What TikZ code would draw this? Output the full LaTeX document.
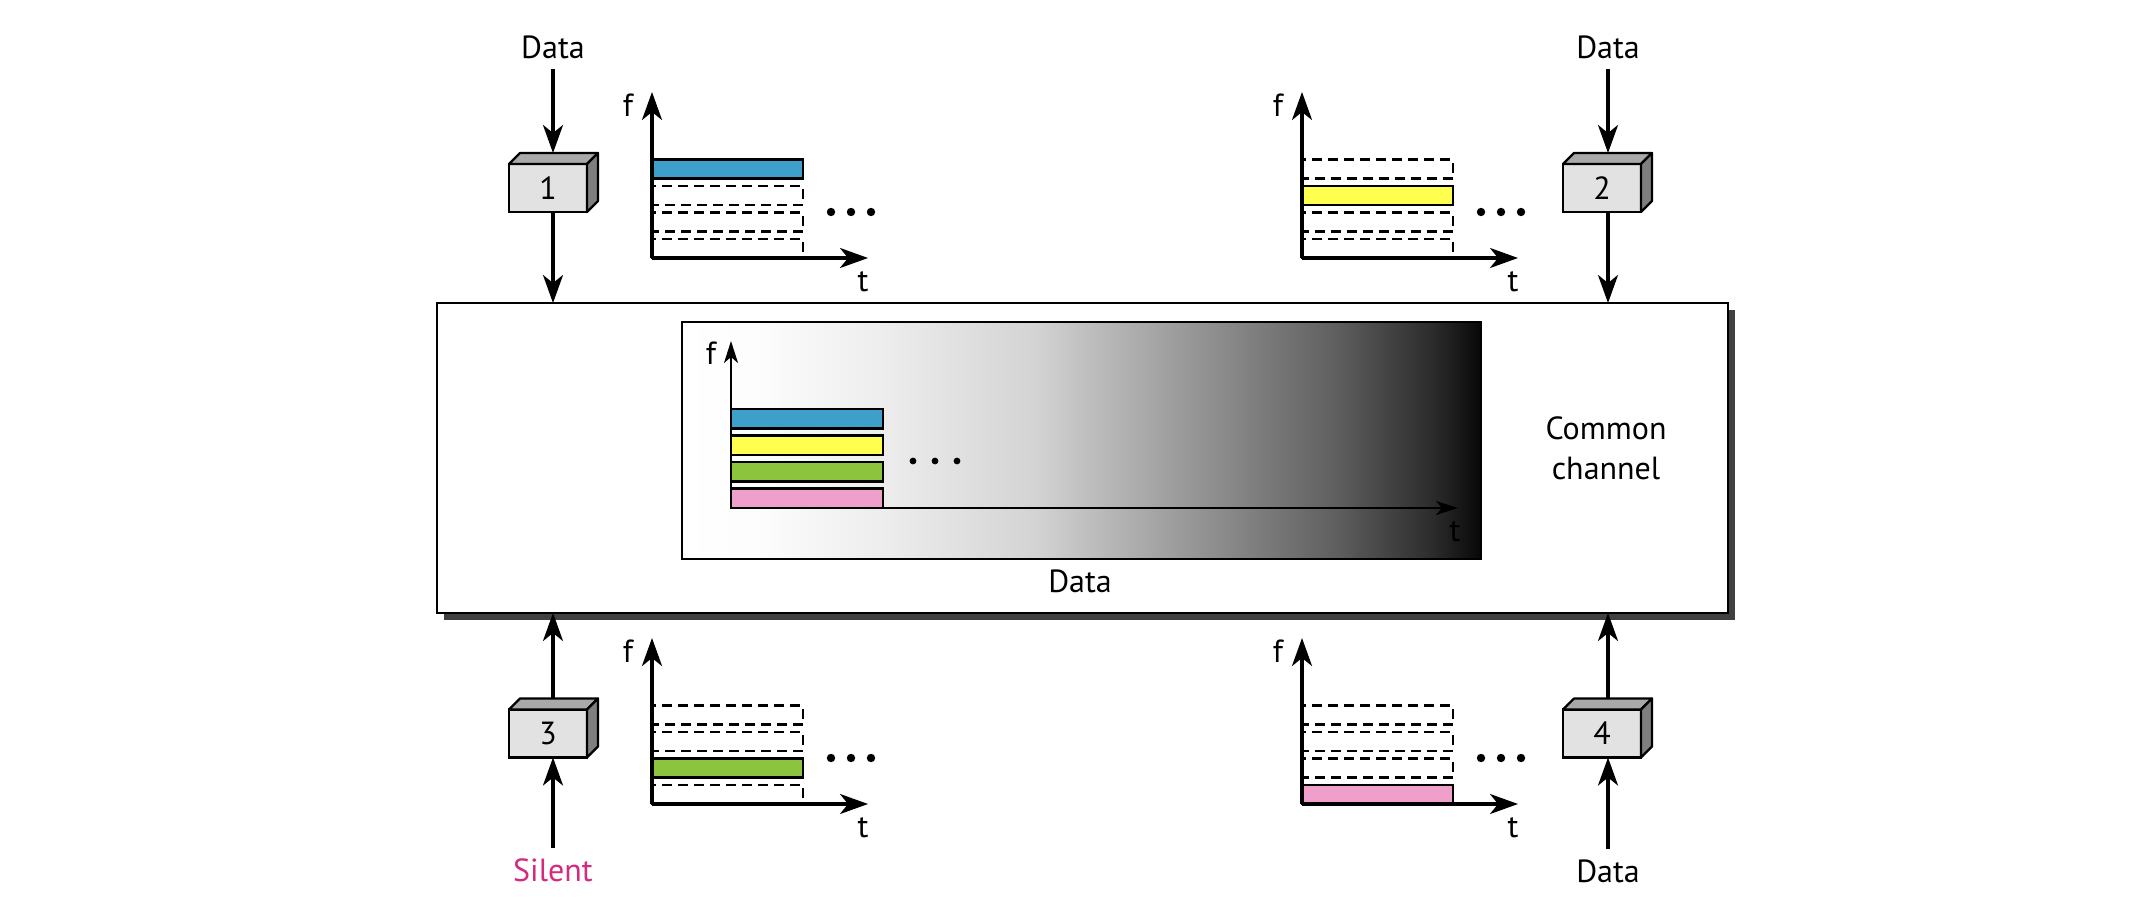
\documentclass[tikz,border=0pt]{standalone}
\usepackage{fontspec}
\setmainfont{PT Sans}
\usetikzlibrary{arrows.meta,shadows}
\definecolor{cblue}{HTML}{3F9FCB}
\definecolor{cyellow}{HTML}{FFFF50}
\definecolor{cgreen}{HTML}{8CC43E}
\definecolor{cpink}{HTML}{EEA0CB}
\definecolor{silentc}{HTML}{D42A80}
\definecolor{boxfront}{HTML}{E2E2E2}
\definecolor{boxtop}{HTML}{A9A9A9}
\definecolor{boxside}{HTML}{7F7F7F}
\pgfdeclarehorizontalshading{chan}{100bp}{color(0bp)=(white); color(25bp)=(white); color(30bp)=(black!1); color(37.5bp)=(black!7); color(47bp)=(black!17); color(56.5bp)=(black!40); color(66bp)=(black!63); color(72bp)=(black!83); color(75bp)=(black!97); color(100bp)=(black!97)}
\newcommand\fdmchart[5]{%
 \foreach \k in {0,...,3}{\draw[slot] (#1,{#2-19-(3-\k)*26.5}) rectangle (#1+151,{#2-(3-\k)*26.5});}
 \draw[bar,fill=#4] (#1,{#2-19-(3-#3)*26.5}) rectangle (#1+151,{#2-(3-#3)*26.5});
 \draw[arr] (#1,#2) -- (#1,#2-166);
 \draw[arr] (#1,#2) -- (#1+216,#2);
 \node (f#5) at (#1-24,#2-153) {f};
 \node (t#5) at (#1+211,#2+24) {t};
 \foreach \dx in {179,199,219} \fill (#1+\dx,#2-46) circle (2.1pt);
}
\newcommand\cube[1]{%
 \draw[line width=1.1pt, fill=boxtop, line join=round] (#1.north west) -- ++(11,-11) -- ++(78,0) -- (#1.north east) -- cycle;
 \draw[line width=1.1pt, fill=boxside, line join=round] (#1.north east) -- ++(11,-11) -- ++(0,48) -- (#1.south east) -- cycle;
}
\begin{document}
\begin{tikzpicture}[x=0.5pt,y=-0.5pt,
  font=\fontsize{16}{19}\selectfont,
  arr/.style={line width=1.6pt,-{Stealth[length=14pt,width=10pt,inset=4pt]}},
  iarr/.style={line width=1.1pt,-{Stealth[length=11pt,width=7pt,inset=3pt]}},
  slot/.style={dash pattern=on 5pt off 3pt, line width=1.4pt},
  bar/.style={draw, line width=1.3pt},
  ibar/.style={draw, line width=1.1pt},
  procbox/.style={draw, line width=1.1pt, fill=boxfront, minimum width=39pt, minimum height=24pt, outer sep=0pt, inner sep=0pt},
  lbl/.style={inner sep=5pt}]
\useasboundingbox (0,0) rectangle (2140,920);

% common channel
\node[draw, line width=1.1pt, fill=white, minimum width=645.5pt, minimum height=155pt, outer sep=0pt,
  drop shadow={shadow xshift=3.5pt, shadow yshift=-3.5pt, fill=black!75, opacity=1}] (main) at (1082.5,458) {};
\node[draw, line width=1.1pt, shading=chan, minimum width=399.5pt, minimum height=118.5pt, outer sep=0pt] (inner) at (1081.5,440.5) {};

% inner chart
\draw[ibar, fill=cblue] (731,409) rectangle (883,428.5);
\draw[ibar, fill=cyellow] (731,435.5) rectangle (883,455);
\draw[ibar, fill=cgreen] (731,462) rectangle (883,481.5);
\draw[ibar, fill=cpink] (731,488.5) rectangle (883,508);
\draw[iarr] (731,508) -- (731,341);
\draw[iarr] (731,508) -- (1458,508);
\node (fi) at (711,353) {f};
\node (ti) at (1455,532) {t};
\foreach \x in {913,935,957} \fill (\x,461) circle (1.7pt);
\node (datac) at (1080,581) {Data};
\node[align=center, font=\fontsize{16}{20}\selectfont] (cc) at (1606,448) {Common\\channel};

% station boxes
\node[procbox] (b1) at (548,188) {1};
\node[procbox] (b2) at (1602,188) {2};
\node[procbox] (b3) at (548,733.5) {3};
\node[procbox] (b4) at (1602,733.5) {4};
\cube{b1}\cube{b2}\cube{b3}\cube{b4}
\coordinate (b1t) at (553,153);
\coordinate (b2t) at (1608,153);
\coordinate (b3t) at (553,699);
\coordinate (b4t) at (1608,699);

\node[lbl] (d1) at (553,47) {Data};
\node[lbl] (d2) at (1608,47) {Data};
\node[lbl, text=silentc] (s3) at (553,870) {Silent};
\node[lbl] (d4) at (1608,871) {Data};

\draw[arr] (d1.south) -- (b1t);
\draw[arr] (b1.south -| b1t) -- (b1t |- main.north);
\draw[arr] (d2.south) -- (b2t);
\draw[arr] (b2.south -| b2t) -- (b2t |- main.north);
\draw[arr] (s3.north) -- (b3.south -| b3t);
\draw[arr] (b3t) -- (b3t |- main.south);
\draw[arr] (d4.north) -- (b4.south -| b4t);
\draw[arr] (b4t) -- (b4t |- main.south);

% per-station charts
\fdmchart{652}{258}{0}{cblue}{a}
\fdmchart{1302}{258}{1}{cyellow}{b}
\fdmchart{652}{804}{2}{cgreen}{c}
\fdmchart{1302}{804}{3}{cpink}{d}
\end{tikzpicture}
\end{document}
